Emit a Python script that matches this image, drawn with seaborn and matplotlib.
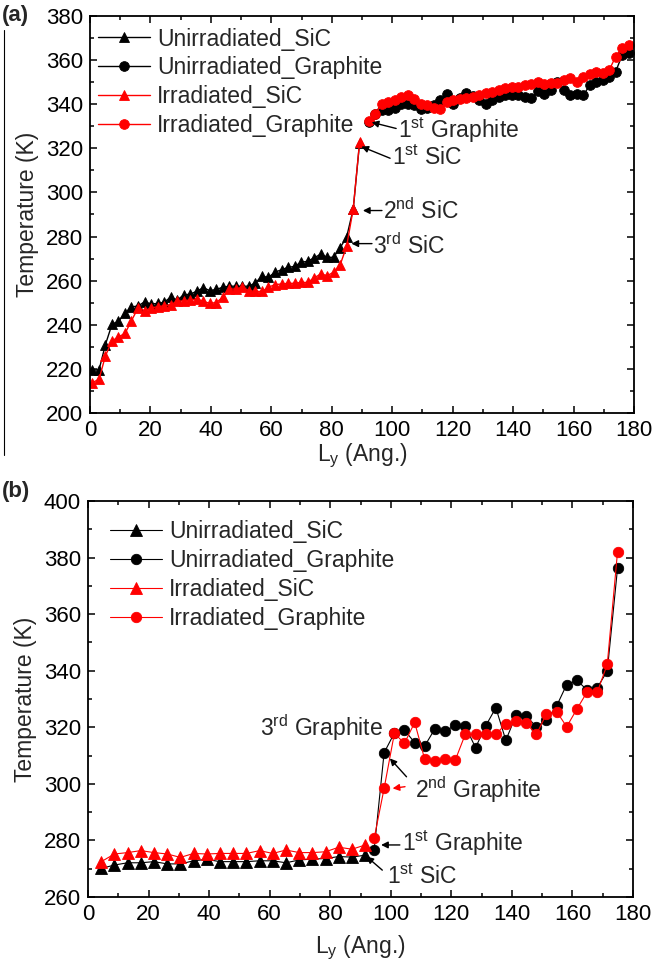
import matplotlib
matplotlib.use("Agg")
import matplotlib.pyplot as plt
from matplotlib.lines import Line2D
from matplotlib.ticker import MultipleLocator
import pandas as pd
import seaborn as sns

# ---------------- panel (a) ----------------
a_sic_x = [0.8, 3.0, 5.1, 7.3, 9.4, 11.6, 13.7, 15.9, 18.1, 20.2, 22.4, 24.5, 26.7, 28.8,
           31.0, 33.2, 35.3, 37.5, 39.6, 41.8, 43.9, 46.1, 48.3, 50.4, 52.6, 54.7, 56.9,
           59.0, 61.2, 63.4, 65.5, 67.7, 69.8, 72.0, 74.1, 76.3, 78.5, 80.6, 82.8, 84.9,
           87.1, 89.2]
a_unirr_sic = [219.4, 219.6, 231.0, 240.3, 241.5, 245.3, 248.0, 248.6, 250.4, 249.4, 249.7,
               250.2, 252.5, 251.2, 253.5, 253.9, 255.2, 256.8, 255.5, 256.0, 257.0, 257.5,
               257.5, 257.5, 257.5, 259.0, 262.0, 261.5, 263.8, 265.0, 266.0, 266.5, 268.3,
               268.8, 270.3, 272.0, 270.6, 270.6, 275.0, 279.7, 292.5, 322.5]
a_irr_sic = [213.8, 215.3, 225.9, 232.7, 234.5, 236.1, 241.8, 247.6, 246.4, 247.6, 248.2,
             248.6, 249.1, 250.6, 250.9, 251.2, 251.7, 250.6, 249.7, 250.1, 252.4, 256.2,
             256.2, 257.0, 255.5, 255.1, 255.1, 257.0, 258.2, 258.5, 258.8, 258.8, 259.2,
             259.2, 261.2, 263.0, 262.3, 263.8, 267.3, 275.5, 292.6, 322.9]

a_gr_x = [92.2, 94.4, 96.5, 98.7, 100.8, 103.0, 105.1, 107.3, 109.4, 111.6, 113.7, 115.9,
          118.0, 120.2, 122.3, 124.5, 126.6, 128.8, 130.9, 133.1, 135.2, 137.4, 139.5,
          141.7, 143.8, 146.0, 148.1, 150.3, 152.4, 154.6, 156.7, 158.9, 161.0, 163.2,
          165.3, 167.5, 169.6, 171.8, 173.9, 176.1, 178.2]
a_unirr_gr = [332.0, 335.5, 337.3, 337.5, 338.5, 340.0, 340.3, 339.5, 338.0, 338.5, 339.5,
              342.1, 344.5, 340.3, 343.0, 344.9, 343.6, 342.0, 340.3, 342.0, 343.2, 344.1,
              344.3, 344.1, 343.1, 342.8, 346.0, 344.8, 346.3, 350.1, 346.4, 344.0, 344.5,
              344.0, 348.5, 350.1, 350.9, 352.4, 354.7, 362.3, 363.0]
a_irr_gr = [332.5, 335.5, 340.0, 341.0, 342.0, 343.2, 344.0, 342.5, 340.3, 339.5, 338.5,
            338.0, 341.2, 341.8, 342.2, 342.8, 343.5, 344.3, 345.1, 345.6, 346.4, 347.5,
            347.6, 347.6, 348.6, 349.1, 350.1, 349.1, 349.4, 349.7, 350.9, 352.1, 350.1,
            352.4, 353.9, 354.7, 354.2, 355.5, 361.5, 365.3, 367.0]

# ---------------- panel (b) ----------------
b_sic_x = [4.4, 8.7, 13.1, 17.4, 21.8, 26.2, 30.5, 34.9, 39.2, 43.6, 48.0, 52.3, 56.7,
           61.0, 65.4, 69.8, 74.1, 78.5, 82.8, 87.2, 91.6]
b_unirr_sic = [270.1, 271.3, 272.1, 272.1, 272.5, 271.7, 271.7, 272.8, 273.3, 272.5, 272.5,
               272.5, 272.8, 272.8, 272.1, 273.1, 273.4, 273.6, 274.3, 274.1, 274.8]
b_irr_sic = [272.5, 275.2, 275.7, 276.4, 275.7, 275.2, 274.0, 275.4, 275.2, 275.4, 275.4,
             275.4, 276.4, 275.4, 276.6, 275.7, 275.7, 276.0, 277.6, 276.9, 278.4]

b_gr_x = [94.5, 97.8, 101.2, 104.5, 107.9, 111.2, 114.6, 117.9, 121.3, 124.6, 128.0, 131.3,
          134.7, 138.0, 141.4, 144.7, 148.1, 151.4, 154.8, 158.1, 161.5, 164.8, 168.2,
          171.5, 174.9]
b_unirr_gr = [276.6, 311.0, 318.0, 319.0, 314.6, 313.4, 319.5, 318.6, 320.7, 320.4, 312.8,
              320.4, 326.9, 315.4, 324.3, 324.1, 320.1, 322.5, 327.6, 335.1, 336.6, 333.2,
              334.0, 339.9, 376.3]
b_irr_gr = [280.7, 298.4, 317.9, 314.3, 321.7, 308.7, 308.1, 308.7, 308.4, 317.5, 317.5,
            317.7, 317.5, 321.2, 322.2, 321.4, 317.5, 324.7, 325.5, 320.2, 326.5, 332.4,
            332.4, 342.3, 382.1]

labels = ["Unirradiated_SiC", "Unirradiated_Graphite", "Irradiated_SiC", "Irradiated_Graphite"]

sns.set_style("ticks")
plt.rcParams["font.family"] = ["Liberation Sans", "DejaVu Sans"]
plt.rcParams["mathtext.fontset"] = "custom"
plt.rcParams["mathtext.rm"] = "Liberation Sans"
plt.rcParams["mathtext.it"] = "Liberation Sans:italic"
plt.rcParams["mathtext.default"] = "regular"

FS = 16.5
TICK_FS = 16
fig = plt.figure(figsize=(6.52, 9.73), dpi=100)
ax_a = fig.add_axes([90 / 652, 1 - 413 / 973, 544 / 652, 397 / 973])
ax_b = fig.add_axes([88 / 652, 1 - 897 / 973, 545 / 652, 396 / 973])


def draw(ax, x, y, color, marker, ms, lw, label):
    df = pd.DataFrame({"Ly": x, "T": y})
    sns.lineplot(data=df, x="Ly", y="T", ax=ax, color=color, marker=marker,
                 markersize=ms, markeredgecolor=color, markeredgewidth=0.6,
                 linewidth=lw, label=label, sort=False, estimator=None)


def style(ax, ylo, yhi, xpad):
    ax.set_xlim(0, 180)
    ax.set_ylim(ylo, yhi)
    ax.xaxis.set_major_locator(MultipleLocator(20))
    ax.xaxis.set_minor_locator(MultipleLocator(10))
    ax.yaxis.set_major_locator(MultipleLocator(20))
    ax.yaxis.set_minor_locator(MultipleLocator(10))
    ax.tick_params(which="both", direction="in", top=True, right=True, width=1.1,
                   labelsize=TICK_FS, colors="black", pad=5)
    ax.tick_params(which="major", length=5)
    ax.tick_params(which="minor", length=3)
    for sp in ax.spines.values():
        sp.set_linewidth(1.3)
        sp.set_color("black")
    ax.set_xlabel(r"L$_y$ (Ang.)", fontsize=FS, labelpad=xpad)
    ax.set_ylabel("Temperature (K)", fontsize=FS, labelpad=5)


def legend(ax, anchor):
    ax.legend(loc="upper left", bbox_to_anchor=anchor, frameon=False, fontsize=FS,
              handlelength=2.27, handletextpad=0.32, labelspacing=0.25,
              borderaxespad=0.0, borderpad=0.0)


# panel (a)
draw(ax_a, a_sic_x, a_unirr_sic, "black", "^", 7.5, 1.0, labels[0])
draw(ax_a, a_gr_x, a_unirr_gr, "black", "o", 7.0, 1.0, labels[1])
draw(ax_a, a_sic_x, a_irr_sic, "#ff0000", "^", 7.5, 1.0, labels[2])
draw(ax_a, a_gr_x, a_irr_gr, "#ff0000", "o", 7.0, 1.0, labels[3])
style(ax_a, 200, 380, 0.5)
legend(ax_a, (0.0147, 0.971))

arrow_k = dict(arrowstyle="-|>", color="black", lw=1.0, mutation_scale=10,
               shrinkA=0, shrinkB=0)
ax_a.annotate("", xy=(93.2, 331.8), xytext=(101.3, 329.0), arrowprops=arrow_k)
ax_a.text(101.8, 328.0, r"1$^{st}$ Graphite", fontsize=FS, va="center", ha="left")
ax_a.annotate("", xy=(89.8, 320.8), xytext=(99.3, 315.5), arrowprops=arrow_k)
ax_a.text(100.0, 315.5, r"1$^{st}$ SiC", fontsize=FS, va="center", ha="left")
ax_a.annotate("", xy=(90.3, 291.8), xytext=(96.6, 291.8), arrowprops=arrow_k)
ax_a.text(97.0, 291.6, r"2$^{nd}$ SiC", fontsize=FS, va="center", ha="left")
ax_a.annotate("", xy=(86.5, 276.8), xytext=(93.3, 276.8), arrowprops=arrow_k)
ax_a.text(93.6, 275.5, r"3$^{rd}$ SiC", fontsize=FS, va="center", ha="left")

# panel (b)
draw(ax_b, b_sic_x, b_unirr_sic, "black", "^", 8.5, 0.8, labels[0])
draw(ax_b, b_gr_x, b_unirr_gr, "black", "o", 7.5, 0.8, labels[1])
draw(ax_b, b_sic_x, b_irr_sic, "#ff0000", "^", 8.5, 0.8, labels[2])
draw(ax_b, b_gr_x, b_irr_gr, "#ff0000", "o", 7.5, 0.8, labels[3])
style(ax_b, 260, 400, 6)
legend(ax_b, (0.040, 0.951))

arrow_r = dict(arrowstyle="-|>", color="#ff0000", lw=1.0, mutation_scale=10,
               shrinkA=0, shrinkB=0)
ax_b.text(56.8, 320.0, r"3$^{rd}$ Graphite", fontsize=FS, va="center", ha="left")
ax_b.annotate("", xy=(99.7, 309.0), xytext=(105.2, 302.5), arrowprops=arrow_k)
ax_b.annotate("", xy=(100.6, 298.4), xytext=(104.7, 299.0), arrowprops=arrow_r)
ax_b.text(108.0, 297.8, r"2$^{nd}$ Graphite", fontsize=FS, va="center", ha="left")
ax_b.annotate("", xy=(96.8, 278.4), xytext=(103.0, 278.4), arrowprops=arrow_k)
ax_b.text(103.6, 279.0, r"1$^{st}$ Graphite", fontsize=FS, va="center", ha="left")
ax_b.annotate("", xy=(92.0, 274.3), xytext=(97.2, 269.5), arrowprops=arrow_k)
ax_b.text(98.6, 267.0, r"1$^{st}$ SiC", fontsize=FS, va="center", ha="left")

# panel letters and the thin rule at the left edge of the upper panel
fig.text(2 / 652, 1 - 15 / 973, "(a)", fontsize=16, fontweight="bold", va="center", ha="left")
fig.text(2 / 652, 1 - 492 / 973, "(b)", fontsize=16, fontweight="bold", va="center", ha="left")
fig.add_artist(Line2D([4 / 652, 4 / 652], [1 - 30 / 973, 1 - 455 / 973],
                      transform=fig.transFigure, color="black", lw=0.8))

fig.savefig("out.png", dpi=100)
